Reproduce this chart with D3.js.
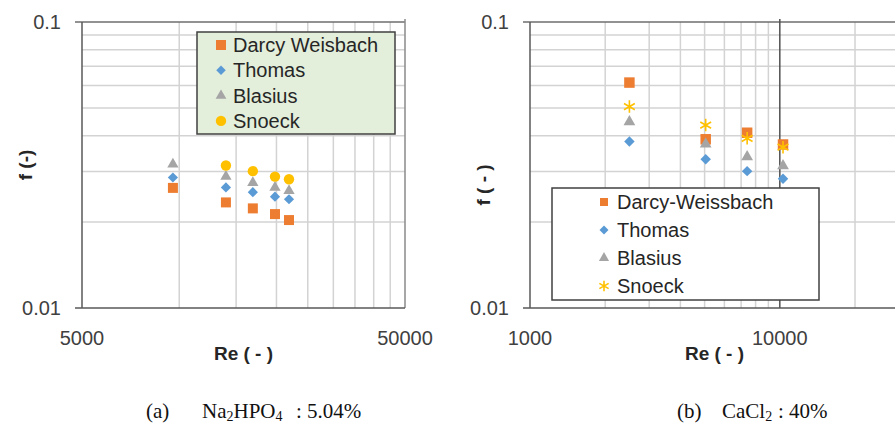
<!DOCTYPE html>
<html>
<head>
<meta charset="utf-8">
<script src="https://cdn.jsdelivr.net/npm/d3@7"></script>
<style>
  body { margin: 0; background: #fff; }
  svg { display: block; }
  .lbl { font-family: "Liberation Sans", Arial, sans-serif; }
  .cap { font-family: "Liberation Serif", "Times New Roman", serif; }
</style>
</head>
<body>
<svg id="chart" width="895" height="426"></svg>
<script>
// panel (a) Na2HPO4 5.04 %
const reA = [9560, 13950, 16900, 19790, 21870];
const darcyA = [0.0263, 0.0234, 0.0223, 0.0213, 0.0203];
const thomasA = [0.0286, 0.0264, 0.0254, 0.0245, 0.0240];
const blasiusA = [0.0318, 0.0288, 0.0274, 0.0264, 0.0257];
const snoeckA = [null, 0.0315, 0.0301, 0.0288, 0.0282];
const namesA = ['Darcy Weisbach', 'Thomas', 'Blasius', 'Snoeck'];

// panel (b) CaCl2 40 %
const reB = [2500, 5050, 7400, 10300];
const darcyB = [0.0614, 0.0389, 0.0410, 0.0373];
const thomasB = [0.0382, 0.0331, 0.0301, 0.0283];
const blasiusB = [0.0448, 0.0374, 0.0338, 0.0314];
const snoeckB = [0.0506, 0.0436, 0.0392, 0.0365];
const namesB = ['Darcy-Weissbach', 'Thomas', 'Blasius', 'Snoeck'];

const yTicks = [0.01, 0.1];
const yMinor = [0.02, 0.03, 0.04, 0.05, 0.06, 0.07, 0.08, 0.09];
const xTicksA = [5000, 50000];
const xMinorA = [10000, 15000, 20000, 25000, 30000, 35000, 40000, 45000];
const xTicksB = [1000, 10000];
const xMinorB = [2000, 3000, 4000, 5000, 6000, 7000, 8000, 9000, 20000];

const colors = ['#ed7d31', '#5b9bd5', '#a5a5a5', '#ffc000'];

const svg = d3.select('#chart');

function marker(kind, size) {
  if (kind === 'square') return d3.symbol().type(d3.symbolSquare).size(size)();
  if (kind === 'diamond') return d3.symbol().type(d3.symbolSquare).size(size)();
  if (kind === 'triangle') return d3.symbol().type(d3.symbolTriangle).size(size)();
  if (kind === 'circle') return d3.symbol().type(d3.symbolCircle).size(size)();
  return d3.symbol().type(d3.symbolAsterisk).size(size)();
}

function drawMark(g, kind, i, x, y, size) {
  const p = g.append('path')
    .attr('d', marker(kind, size))
    .attr('transform', `translate(${x},${y})` + (kind === 'diamond' ? ' rotate(45)' : ''));
  if (kind === 'star') {
    p.attr('fill', 'none').attr('stroke', colors[i]).attr('stroke-width', 1.6);
  } else {
    p.attr('fill', colors[i]);
  }
}

function drawPanel(cfg) {
  const x = d3.scaleLog().domain(cfg.xDomain).range([cfg.left, cfg.right]);
  const y = d3.scaleLog().domain([0.01, 0.1]).range([308, 22]);
  const g = svg.append('g');

  // minor grid
  g.selectAll('.hx').data(yMinor).enter().append('line')
    .attr('x1', cfg.left).attr('x2', cfg.right)
    .attr('y1', d => y(d)).attr('y2', d => y(d))
    .attr('stroke', '#d3d3d3').attr('stroke-width', 1.5);
  g.selectAll('.vx').data(cfg.xMinor).enter().append('line')
    .attr('x1', d => x(d)).attr('x2', d => x(d))
    .attr('y1', 22).attr('y2', 308)
    .attr('stroke', '#d3d3d3').attr('stroke-width', 1.5);

  // major grid / frame
  g.append('line').attr('x1', cfg.left - 7).attr('x2', cfg.right)
    .attr('y1', y(0.1)).attr('y2', y(0.1))
    .attr('stroke', '#6e6e6e').attr('stroke-width', 1.5);
  cfg.xMajorGrid.forEach(v => {
    g.append('line').attr('x1', x(v)).attr('x2', x(v))
      .attr('y1', 19).attr('y2', 308)
      .attr('stroke', cfg.majorColor).attr('stroke-width', 1.5);
  });
  g.append('line').attr('x1', cfg.left).attr('x2', cfg.left)
    .attr('y1', 22).attr('y2', 308)
    .attr('stroke', '#595959').attr('stroke-width', 1.5);
  g.append('line').attr('x1', cfg.left - 7).attr('x2', cfg.right)
    .attr('y1', 308).attr('y2', 308)
    .attr('stroke', '#595959').attr('stroke-width', 1.5);

  // tick labels
  g.selectAll('.yt').data(yTicks).enter().append('text')
    .attr('class', 'lbl')
    .attr('x', cfg.left - 21).attr('y', d => y(d) + 7)
    .attr('text-anchor', 'end').attr('font-size', 20).attr('fill', '#404040')
    .text(d => d);
  g.selectAll('.xt').data(cfg.xTicks).enter().append('text')
    .attr('class', 'lbl')
    .attr('x', d => x(d)).attr('y', 345)
    .attr('text-anchor', 'middle').attr('font-size', 20).attr('fill', '#404040')
    .text(d => d);

  // axis titles
  g.append('text').attr('class', 'lbl')
    .attr('x', (cfg.left + cfg.right) / 2).attr('y', 360)
    .attr('text-anchor', 'middle').attr('font-size', 19).attr('font-weight', 'bold')
    .attr('fill', '#262626').text('Re ( - )');
  g.append('text').attr('class', 'lbl')
    .attr('transform', `translate(${cfg.yTitleX},${cfg.yTitleY}) rotate(-90)`)
    .attr('text-anchor', 'middle').attr('font-size', 19).attr('font-weight', 'bold')
    .attr('fill', '#262626').text(cfg.yTitle);

  // points
  cfg.series.forEach((vals, i) => {
    vals.forEach((v, j) => {
      if (v == null) return;
      drawMark(g, cfg.kinds[i], i, x(cfg.re[j]), y(v), cfg.sizes[i]);
    });
  });

  // legend
  const L = cfg.legend;
  g.append('rect').attr('x', L.x).attr('y', L.y).attr('width', L.w).attr('height', L.h)
    .attr('fill', L.fill).attr('stroke', '#404040').attr('stroke-width', 1.5);
  cfg.names.forEach((n, i) => {
    const cy = L.y + L.first + i * L.step;
    drawMark(g, cfg.kinds[i], i, L.x + L.mx, cy, cfg.legSizes[i]);
    g.append('text').attr('class', 'lbl')
      .attr('x', L.x + L.tx).attr('y', cy + 7)
      .attr('font-size', 20).attr('fill', '#262626').text(n);
  });
}

drawPanel({
  xDomain: [5000, 50000], left: 82, right: 405,
  xMinor: xMinorA, xTicks: xTicksA, xMajorGrid: [50000], majorColor: '#8a8a8a',
  yTitle: 'f (-)', yTitleX: 32, yTitleY: 165,
  re: reA, series: [darcyA, thomasA, blasiusA, snoeckA],
  kinds: ['square', 'diamond', 'triangle', 'circle'],
  sizes: [100, 52, 55, 85], legSizes: [100, 45, 50, 85],
  names: namesA,
  legend: { x: 197, y: 32, w: 198, h: 102, fill: '#e3eedb', mx: 24, tx: 36, first: 13, step: 25.3 }
});

drawPanel({
  xDomain: [1000, 30000], left: 530, right: 899,
  xMinor: xMinorB, xTicks: xTicksB, xMajorGrid: [10000], majorColor: '#505050',
  yTitle: 'f ( - )', yTitleX: 490, yTitleY: 185,
  re: reB, series: [darcyB, thomasB, blasiusB, snoeckB],
  kinds: ['square', 'diamond', 'triangle', 'star'],
  sizes: [110, 55, 60, 110], legSizes: [64, 40, 45, 80],
  names: namesB,
  legend: { x: 552, y: 188, w: 267, h: 112, fill: '#ffffff', mx: 52, tx: 65, first: 14, step: 28 }
});

// captions
const capA = svg.append('text').attr('class', 'cap').attr('x', 146).attr('y', 418)
  .attr('font-size', 21).attr('fill', '#111');
capA.append('tspan').text('(a)');
capA.append('tspan').attr('x', 202).text('Na');
capA.append('tspan').attr('font-size', 14).attr('dy', 3).text('2');
capA.append('tspan').attr('dy', -3).text('HPO');
capA.append('tspan').attr('font-size', 14).attr('dy', 3).text('4');
capA.append('tspan').attr('dy', -3).attr('x', 296).text(': 5.04%');

const capB = svg.append('text').attr('class', 'cap').attr('x', 677).attr('y', 418)
  .attr('font-size', 21).attr('fill', '#111');
capB.append('tspan').text('(b)');
capB.append('tspan').attr('x', 722).text('CaCl');
capB.append('tspan').attr('font-size', 14).attr('dy', 3).text('2');
capB.append('tspan').attr('dy', -3).attr('x', 778).text(': 40%');
</script>
</body>
</html>
